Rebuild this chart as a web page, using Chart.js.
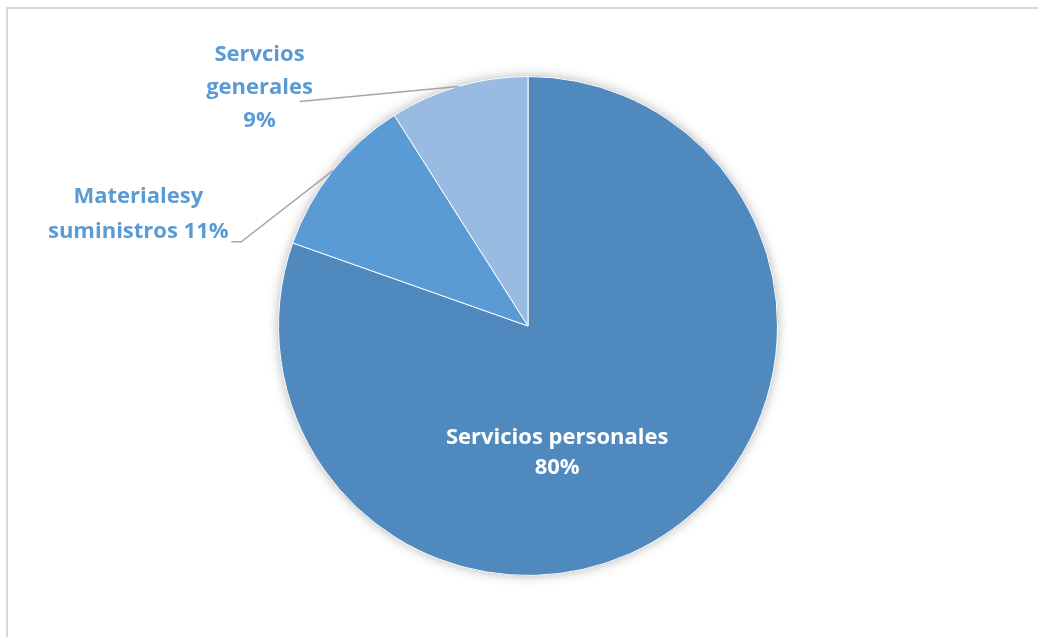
<!DOCTYPE html>
<html>
<head>
<meta charset="utf-8">
<script src="https://cdn.jsdelivr.net/npm/chart.js@4/dist/chart.umd.min.js"></script>
<style>
  html, body { margin: 0; padding: 0; background: #fff; overflow: hidden; }
  #wrap { position: relative; width: 1038px; height: 637px; }
  #frame { position: absolute; left: 6px; top: 7px; width: 1100px; height: 700px; border: 2px solid #d9d9d9; }
  canvas { position: absolute; left: 0; top: 0; }
</style>
</head>
<body>
<div id="wrap">
  <div id="frame"></div>
  <canvas id="pie" width="1038" height="637"></canvas>
</div>
<script>
const categories = ['Servicios personales', 'Materialesy suministros', 'Servcios generales'];
const values = [80.4, 10.6, 9.0];
const sliceColors = ['#4F89BE', '#5B9BD5', '#9ABBE1'];

// label text lines for each slice (percent added from values)
const labelLines = [
    ['Servicios personales'],
    ['Materialesy', 'suministros'],
    ['Servcios', 'generales']
];

const labelFont = 'bold 22px "Open Sans"';

function pct(i) {
    const total = values.reduce((a, b) => a + b, 0);
    return Math.round(values[i] / total * 100) + '%';
}

// soft shadow behind the whole pie
const pieShadow = {
    id: 'pieShadow',
    beforeDatasetsDraw(chart) {
        const arc = chart.getDatasetMeta(0).data[0];
        const p = arc.getProps(['x', 'y', 'outerRadius'], true);
        const ctx = chart.ctx;
        ctx.save();
        ctx.shadowColor = 'rgba(0,0,0,0.3)';
        ctx.shadowBlur = 12;
        ctx.beginPath();
        ctx.arc(p.x, p.y, p.outerRadius, 0, Math.PI * 2);
        ctx.fillStyle = sliceColors[0];
        ctx.fill();
        ctx.restore();
    }
};

const pieLabels = {
    id: 'pieLabels',
    afterDatasetsDraw(chart) {
        const ctx = chart.ctx;
        const arcs = chart.getDatasetMeta(0).data;
        ctx.save();
        ctx.font = labelFont;
        ctx.textAlign = 'center';
        ctx.textBaseline = 'middle';

        arcs.forEach((arc, i) => {
            const p = arc.getProps(['x', 'y', 'startAngle', 'endAngle', 'outerRadius'], true);
            const r = p.outerRadius;
            const mid = (p.startAngle + p.endAngle) / 2;
            const edgeX = p.x + Math.cos(mid) * r;
            const edgeY = p.y + Math.sin(mid) * r;

            if (i === 0) {
                const lines = [labelLines[0][0], pct(0)];
                ctx.fillStyle = '#ffffff';
                const cx = p.x + 0.117 * r;
                const cy = p.y + 0.506 * r;
                lines.forEach((t, k) => ctx.fillText(t, cx, cy + (k - 0.5) * 30));
            } else if (i === 1) {
                const lines = [labelLines[1][0], labelLines[1][1] + ' ' + pct(1)];
                const cx = p.x - 1.562 * r;
                const cy = p.y - 0.446 * r;
                ctx.strokeStyle = '#a6a6a6';
                ctx.lineWidth = 1.5;
                ctx.beginPath();
                ctx.moveTo(cx + 93, cy + 27);
                ctx.lineTo(cx + 103, cy + 27);
                ctx.lineTo(edgeX, edgeY);
                ctx.stroke();
                ctx.fillStyle = '#5B9BD5';
                lines.forEach((t, k) => ctx.fillText(t, cx, cy + (k - 0.5) * 35));
            } else {
                const lines = [labelLines[2][0], labelLines[2][1], pct(2)];
                const cx = p.x - 1.076 * r;
                const cy = p.y - 0.956 * r;
                ctx.strokeStyle = '#a6a6a6';
                ctx.lineWidth = 1.5;
                ctx.beginPath();
                ctx.moveTo(cx + 40, cy + 14);
                ctx.lineTo(edgeX, edgeY);
                ctx.stroke();
                ctx.fillStyle = '#5B9BD5';
                lines.forEach((t, k) => ctx.fillText(t, cx, cy + (k - 1) * 33));
            }
        });
        ctx.restore();
    }
};

const ctxPie = document.getElementById('pie').getContext('2d');
new Chart(ctxPie, {
    type: 'pie',
    data: {
        labels: categories,
        datasets: [{
            data: values,
            backgroundColor: sliceColors,
            borderColor: '#ffffff',
            borderWidth: 1
        }]
    },
    options: {
        responsive: false,
        animation: false,
        layout: { padding: { top: 76, bottom: 61, left: 18, right: 0 } },
        plugins: {
            legend: { display: false },
            tooltip: { enabled: false }
        }
    },
    plugins: [pieShadow, pieLabels]
});
</script>
</body>
</html>
